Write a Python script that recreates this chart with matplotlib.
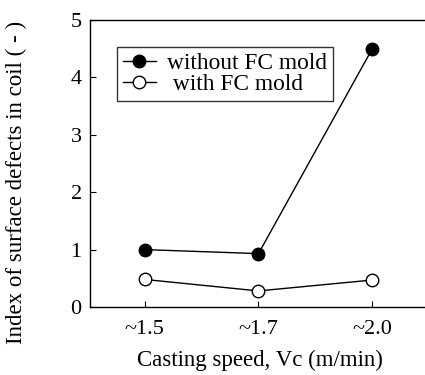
import matplotlib
matplotlib.use("Agg")
from matplotlib import pyplot as plt

plt.rcParams["font.family"] = ["Liberation Serif", "DejaVu Serif"]

speeds = ["~1.5", "~1.7", "~2.0"]
without_fc = [1.0, 0.93, 4.5]
with_fc = [0.48, 0.28, 0.47]

fig = plt.figure(figsize=(4.25, 3.75), dpi=100)
ax = fig.add_axes([90 / 425, 1 - 307 / 375, 1 - 90 / 425 + 0.01, 287 / 375])

x = list(range(len(speeds)))
ax.plot(x, without_fc, color="black", lw=1.0, marker="o", ms=9,
        mfc="black", mec="black", label="without FC mold")
ax.plot(x, with_fc, color="black", lw=1.0, marker="o", ms=9,
        mfc="white", mec="black", mew=1.0, label=" with FC mold")

ax.set_xlim(-0.48, 2.5)
ax.set_ylim(0, 5)
ax.set_xticks(x)
ax.set_xticklabels(speeds, fontsize=16)
ax.set_yticks(range(6))
ax.tick_params(axis="y", direction="in", length=4, labelsize=16, width=0.8, pad=6)
ax.tick_params(axis="x", direction="in", length=4, labelsize=16, width=0.8, pad=9)
ax.spines["right"].set_visible(False)
for s in ["left", "top", "bottom"]:
    ax.spines[s].set_linewidth(1.0)

ax.set_xlabel("Casting speed, Vc (m/min)", fontsize=16.5, labelpad=8)
ax.set_ylabel("Index of surface defects in coil ( - )", fontsize=16.5)
ax.yaxis.set_label_coords(-0.187, 0.435)

leg = ax.legend(loc="upper left", bbox_to_anchor=(0.08, 0.906), fontsize=16.8,
                frameon=True, fancybox=False, edgecolor="black",
                handlelength=1.4, borderpad=0.25, labelspacing=0.0,
                handletextpad=0.5, borderaxespad=0)
leg.get_frame().set_linewidth(1.0)

fig.savefig("out.png", dpi=100)
